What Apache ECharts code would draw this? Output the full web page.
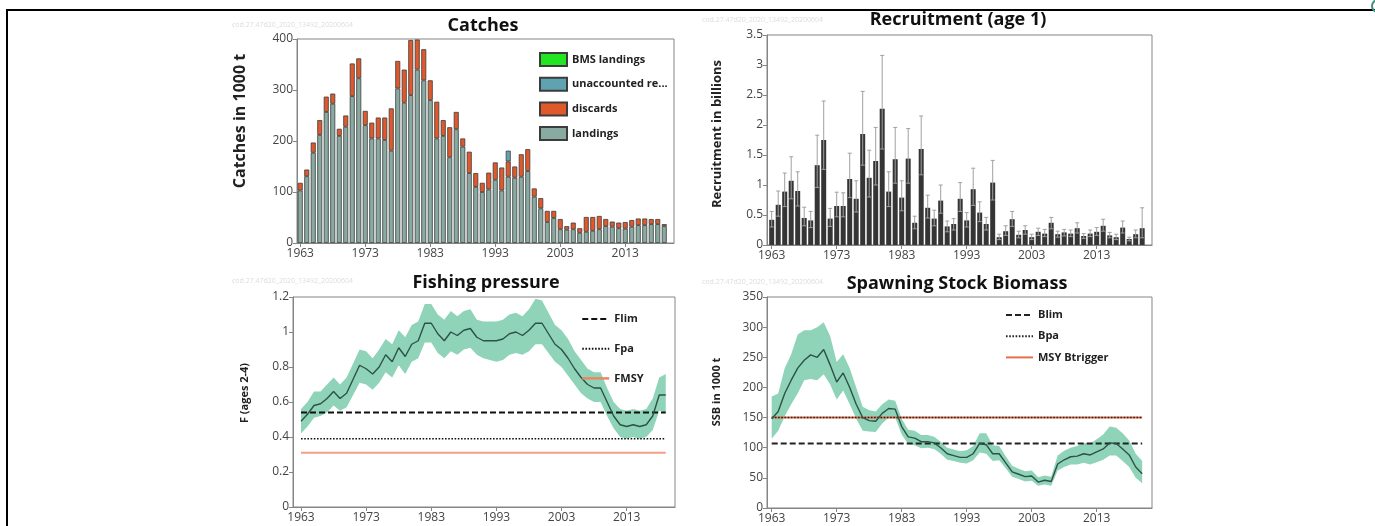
<!DOCTYPE html>
<html>
<head>
<meta charset="utf-8">
<title>Stock summary</title>
<script src="https://cdn.jsdelivr.net/npm/echarts@6.0.0/dist/echarts.min.js"></script>
<style>
html,body{margin:0;padding:0;background:#fff;overflow:hidden}
#chart{width:1375px;height:526px}
</style>
</head>
<body>
<div id="chart"></div>
<script>
// ---------- data ----------
const years = [1963,1964,1965,1966,1967,1968,1969,1970,1971,1972,
  1973,1974,1975,1976,1977,1978,1979,1980,1981,1982,
  1983,1984,1985,1986,1987,1988,1989,1990,1991,1992,
  1993,1994,1995,1996,1997,1998,1999,2000,2001,2002,
  2003,2004,2005,2006,2007,2008,2009,2010,2011,2012,
  2013,2014,2015,2016,2017,2018,2019,2020];
const fYears = years.slice(0, 57);       // 1963-2019
const tickYears = [1963,1973,1983,1993,2003,2013];

// Catches (1000 t), 1963-2019
const landings = [103,131,177,212,257,273,210,228,288,323,
  231,205,205,202,181,303,275,290,340,319,
  280,205,210,168,223,189,137,110,100,105,
  124,103,130,128,130,141,91,68,41,49,
  27,26,27,20,22,24,27,33,32,29,
  28,32,35,35,37,37,33];
const discards = [15,13,20,29,30,20,14,22,64,39,
  28,31,41,44,83,54,65,108,59,61,
  39,72,31,59,34,16,42,27,18,33,
  34,45,30,22,44,43,16,20,22,14,
  20,7,13,9,29,27,26,14,10,11,
  13,13,13,13,10,10,4];
const unaccounted = [null,null,null,null,null,null,null,null,null,null,
  null,null,null,null,null,null,null,null,null,null,
  null,null,null,null,null,null,null,null,null,null,
  null,null,21,null,null,null,null,null,null,null,
  null,null,null,null,null,null,null,null,null,null,
  null,null,null,null,null,null,null];
const bmsLandings = [];

// Recruitment (billions), 1963-2020
const recruitment = [0.42,0.67,0.89,1.07,0.90,0.45,0.41,1.33,1.75,0.44,
  0.65,0.65,1.10,0.77,1.85,1.12,1.40,2.27,0.89,1.43,
  0.79,1.44,0.37,1.60,0.62,0.44,0.74,0.31,0.35,0.77,
  0.41,0.93,0.54,0.35,1.04,0.13,0.23,0.43,0.17,0.25,
  0.13,0.22,0.19,0.37,0.18,0.21,0.19,0.28,0.15,0.19,
  0.22,0.32,0.16,0.13,0.29,0.10,0.18,0.28];
const recHigh = [0.56,0.90,1.20,1.47,1.22,0.63,0.56,1.83,2.40,0.61,
  0.88,0.87,1.53,1.07,2.56,1.58,1.96,3.16,1.22,1.96,
  1.07,1.94,0.48,2.15,0.83,0.58,1.00,0.40,0.44,1.04,
  0.54,1.28,0.72,0.46,1.41,0.18,0.32,0.56,0.23,0.32,
  0.18,0.28,0.26,0.46,0.23,0.26,0.25,0.37,0.19,0.25,
  0.29,0.43,0.21,0.18,0.40,0.13,0.25,0.62];
const recLow = [0.30,0.48,0.64,0.77,0.65,0.32,0.29,0.96,1.26,0.31,
  0.47,0.47,0.79,0.55,1.33,0.80,1.00,1.60,0.64,1.03,
  0.57,1.03,0.27,1.17,0.45,0.32,0.53,0.22,0.25,0.56,
  0.30,0.66,0.39,0.25,0.75,0.09,0.16,0.31,0.12,0.18,
  0.09,0.16,0.14,0.27,0.13,0.15,0.14,0.20,0.11,0.14,
  0.16,0.23,0.12,0.09,0.20,0.07,0.12,0.12];

// Fishing pressure F (ages 2-4), 1963-2019
const fBar = [0.49,0.53,0.58,0.59,0.62,0.66,0.62,0.65,0.73,0.81,
  0.79,0.76,0.80,0.87,0.83,0.91,0.86,0.93,0.95,1.05,
  1.05,0.99,0.95,1.00,0.98,1.01,1.02,0.97,0.95,0.95,
  0.95,0.96,0.99,1.00,0.98,1.01,1.05,1.05,0.99,0.93,
  0.90,0.85,0.79,0.74,0.70,0.68,0.68,0.60,0.52,0.47,
  0.46,0.47,0.46,0.47,0.52,0.64,0.64];
const fHigh = [0.56,0.60,0.66,0.66,0.70,0.74,0.70,0.74,0.82,0.90,
  0.89,0.85,0.90,0.96,0.93,1.01,0.97,1.04,1.06,1.16,
  1.16,1.10,1.07,1.12,1.09,1.12,1.13,1.07,1.06,1.06,
  1.06,1.07,1.10,1.11,1.09,1.13,1.19,1.18,1.11,1.04,
  1.01,0.96,0.89,0.84,0.79,0.77,0.77,0.68,0.60,0.56,
  0.55,0.56,0.55,0.56,0.62,0.74,0.76];
const fLow = [0.42,0.46,0.51,0.52,0.54,0.58,0.55,0.57,0.64,0.71,
  0.70,0.67,0.71,0.77,0.74,0.81,0.76,0.83,0.85,0.94,
  0.94,0.88,0.85,0.89,0.87,0.90,0.91,0.87,0.85,0.84,
  0.83,0.84,0.87,0.88,0.87,0.89,0.93,0.93,0.88,0.83,
  0.80,0.75,0.70,0.65,0.62,0.60,0.60,0.52,0.45,0.40,
  0.39,0.40,0.39,0.40,0.44,0.55,0.54];
const fLim = 0.54, fPa = 0.39, fMsy = 0.31;

// Spawning stock biomass (1000 t), 1963-2020
const ssb = [148,160,190,212,232,245,254,250,263,237,
  209,224,200,172,150,145,144,157,165,164,
  135,118,116,110,110,108,100,90,87,84,
  84,90,107,105,90,90,75,60,56,52,
  53,43,46,44,73,80,85,86,90,88,
  93,98,108,107,98,88,68,57];
const ssbHigh = [185,190,232,255,288,295,295,300,308,285,
  242,255,232,200,168,162,160,172,180,178,
  148,130,128,121,121,118,110,100,97,94,
  96,103,124,124,104,103,86,70,65,61,
  62,51,54,52,87,95,100,103,108,107,
  114,122,135,133,124,112,90,78];
const ssbLow = [115,128,152,172,190,212,214,212,222,205,
  180,195,172,148,128,127,126,140,150,150,
  122,106,104,99,100,98,90,80,78,75,
  74,79,92,90,78,79,66,52,48,44,
  45,37,39,37,62,68,72,72,75,72,
  76,80,87,87,78,68,50,41];
const bLim = 107, bPa = 150, msyBtrigger = 150;

const watermark = 'cod.27.47d20_2020_13492_20200604';

// ---------- helpers ----------
const FONT = "'Open Sans', sans-serif";
const AX = '#858585';
function pairs(xs, ys) { return xs.map((x, i) => [x, ys[i]]); }
function xAx(gi, min, max) {
  return {
    type: 'value', gridIndex: gi, min: min, max: max,
    axisLine: { show: true, onZero: false, lineStyle: { color: AX, width: 1 } },
    axisTick: { show: true, customValues: tickYears, length: 4, lineStyle: { color: AX } },
    axisLabel: { customValues: tickYears, color: '#444', fontSize: 12, fontFamily: FONT, margin: 5,
      formatter: v => String(v) },
    splitLine: { show: false }
  };
}
const tickEvery10 = (idx) => idx % 10 === 0;
function yAx(gi, max, interval) {
  return {
    type: 'value', gridIndex: gi, min: 0, max: max, interval: interval,
    axisLine: { show: true, lineStyle: { color: AX, width: 1 } },
    axisTick: { show: true, length: 4, lineStyle: { color: AX } },
    axisLabel: { color: '#444', fontSize: 12, fontFamily: FONT, margin: 4 },
    splitLine: { show: false }
  };
}
function ytitle(text, x, y, size) {
  return { type: 'text', x: x, y: y, rotation: Math.PI / 2,
    style: { text: text, font: 'bold ' + size + 'px ' + FONT, fill: '#222',
      align: 'center', verticalAlign: 'middle', textAlign: 'center', textVerticalAlign: 'middle' } };
}
function wm(x, y) {
  return { type: 'text', x: x, y: y,
    style: { text: watermark, font: '7px ' + FONT, fill: '#dcdcdc', verticalAlign: 'middle', textVerticalAlign: 'middle' } };
}
function titleCfg(text, cx, top) {
  return { text: text, left: cx, top: top, textAlign: 'center', padding: 0,
    textStyle: { fontFamily: FONT, fontSize: 18, fontWeight: 'bold', color: '#111' } };
}
const bandColor = '#8fd3b9';
const lineColor = '#2d5247';
const barBorder = { borderColor: '#3c3c3c', borderWidth: 0.8 };
function bandSeries(name, axisIdx, xs, lo, hi) {
  return { name: name, type: 'custom', xAxisIndex: axisIdx, yAxisIndex: axisIdx, z: 1, silent: true,
    data: xs.map((x, i) => [x, lo[i], hi[i]]),
    encode: { x: 0, y: [1, 2] },
    renderItem: function (params, api) {
      if (params.dataIndex !== 0) return null;
      const pts = [];
      for (let i = 0; i < xs.length; i++) pts.push(api.coord([xs[i], hi[i]]));
      for (let i = xs.length - 1; i >= 0; i--) pts.push(api.coord([xs[i], lo[i]]));
      return { type: 'polygon', shape: { points: pts }, style: { fill: bandColor } };
    } };
}
function refLine(name, axisIdx, x0, x1, v, style) {
  return { name: name, type: 'line', xAxisIndex: axisIdx, yAxisIndex: axisIdx, symbol: 'none', z: 2,
    lineStyle: style, itemStyle: { color: style.color }, data: [[x0, v], [x1, v]] };
}
function legendText(lh) {
  return { fontFamily: FONT, fontSize: 11, fontWeight: 'bold', color: '#222', lineHeight: lh };
}

const option = {
  animation: false,
  backgroundColor: '#fff',
  title: [
    titleCfg('Catches', 483, 17),
    titleCfg('Recruitment (age 1)', 958, 11),
    titleCfg('Fishing pressure', 486, 274),
    titleCfg('Spawning Stock Biomass', 957, 275)
  ],
  grid: [
    { left: 297, top: 39, width: 377, height: 204, show: true, borderColor: AX, borderWidth: 1 },
    { left: 767, top: 35, width: 385, height: 210, show: true, borderColor: AX, borderWidth: 1 },
    { left: 293, top: 297, width: 382, height: 210, show: true, borderColor: AX, borderWidth: 1 },
    { left: 767, top: 297, width: 385, height: 211, show: true, borderColor: AX, borderWidth: 1 }
  ],
  xAxis: [
    { type: 'category', gridIndex: 0, data: years.map(String), boundaryGap: true,
      axisLine: { show: true, lineStyle: { color: AX, width: 1 } },
      axisTick: { show: true, alignWithLabel: true, interval: tickEvery10, length: 4, lineStyle: { color: AX } },
      axisLabel: { interval: tickEvery10, color: '#444', fontSize: 12, fontFamily: FONT, margin: 5 },
      splitLine: { show: false } },
    xAx(1, 1962.277, 2021.51),
    xAx(2, 1961.772, 2020.42),
    xAx(3, 1962.277, 2021.51)
  ],
  yAxis: [
    yAx(0, 400, 100),
    yAx(1, 3.5, 0.5),
    yAx(2, 1.2, 0.2),
    yAx(3, 350, 50)
  ],
  legend: [
    { left: 539, top: 52, padding: 0, orient: 'vertical', icon: 'rect', itemWidth: 27, itemHeight: 13, itemGap: 9.7,
      selectedMode: false, data: ['BMS landings', 'unaccounted re...', 'discards', 'landings'],
      textStyle: legendText(13) },
    { left: 581, top: 312, padding: 0, orient: 'vertical', itemWidth: 27, itemHeight: 14, itemGap: 15.7,
      selectedMode: false, itemStyle: { opacity: 0 },
      data: ['Flim', 'Fpa', { name: 'FMSY', lineStyle: { color: '#ec8663', width: 2.5 } }],
      textStyle: legendText(14) },
    { left: 1005, top: 309, padding: 0, orient: 'vertical', itemWidth: 27, itemHeight: 12, itemGap: 9.2,
      selectedMode: false, data: ['Blim', 'Bpa', 'MSY Btrigger'], itemStyle: { opacity: 0 },
      textStyle: legendText(12) }
  ],
  graphic: [
    { type: 'rect', shape: { x: 6, y: 9, width: 1369, height: 2 }, style: { fill: '#000' } },
    { type: 'rect', shape: { x: 6, y: 9, width: 2, height: 517 }, style: { fill: '#000' } },
    { type: 'circle', shape: { cx: 1378, cy: 6, r: 6 }, style: { fill: 'none', stroke: '#3f8f7d', lineWidth: 2 } },
    ytitle('Catches in 1000 t', 240, 121, 16),
    ytitle('Recruitment in billions', 717, 134, 13),
    ytitle('F (ages 2-4)', 245, 393, 11),
    ytitle('SSB in 1000 t', 717, 392, 11),
    wm(232, 25), wm(702, 20), wm(232, 281), wm(702, 282)
  ],
  series: [
    // ---- Catches ----
    { name: 'landings', type: 'bar', xAxisIndex: 0, yAxisIndex: 0, stack: 'catch', barWidth: 5,
      itemStyle: Object.assign({ color: '#89aaa1' }, barBorder), data: landings },
    { name: 'discards', type: 'bar', xAxisIndex: 0, yAxisIndex: 0, stack: 'catch', barWidth: 5,
      itemStyle: Object.assign({ color: '#e0592b' }, barBorder), data: discards },
    { name: 'unaccounted re...', type: 'bar', xAxisIndex: 0, yAxisIndex: 0, stack: 'catch', barWidth: 5,
      itemStyle: Object.assign({ color: '#5fa3b0' }, barBorder), data: unaccounted },
    { name: 'BMS landings', type: 'bar', xAxisIndex: 0, yAxisIndex: 0, stack: 'catch', barWidth: 5,
      itemStyle: Object.assign({ color: '#22e622' }, barBorder), data: bmsLandings },
    // ---- Recruitment ----
    { name: 'Recruitment', type: 'bar', xAxisIndex: 1, yAxisIndex: 1, barWidth: 5,
      itemStyle: { color: '#353535' }, data: pairs(years, recruitment) },
    { name: 'Recruitment CI', type: 'custom', xAxisIndex: 1, yAxisIndex: 1, z: 3,
      encode: { x: 0, y: [1, 2] },
      data: years.map((y, i) => [y, recLow[i], recHigh[i]]),
      renderItem: function (params, api) {
        const x = api.value(0);
        const a = api.coord([x, api.value(1)]);
        const b = api.coord([x, api.value(2)]);
        const st = { stroke: '#a0a0a0', lineWidth: 1 };
        return { type: 'group', children: [
          { type: 'line', shape: { x1: a[0], y1: a[1], x2: b[0], y2: b[1] }, style: st },
          { type: 'line', shape: { x1: b[0] - 2, y1: b[1], x2: b[0] + 2, y2: b[1] }, style: st },
          { type: 'line', shape: { x1: a[0] - 2, y1: a[1], x2: a[0] + 2, y2: a[1] }, style: st }
        ] };
      } },
    // ---- Fishing pressure ----
    bandSeries('F band', 2, fYears, fLow, fHigh),
    refLine('FMSY', 2, 1963, 2019, fMsy, { color: '#f29f87', width: 2 }),
    refLine('Fpa', 2, 1963, 2019, fPa, { color: '#111', width: 1.6, type: [1.6, 1.6] }),
    refLine('Flim', 2, 1963, 2019, fLim, { color: '#111', width: 2, type: [6, 3] }),
    { name: 'F', type: 'line', xAxisIndex: 2, yAxisIndex: 2, symbol: 'none', z: 3,
      lineStyle: { color: lineColor, width: 1.4 }, data: pairs(fYears, fBar) },
    // ---- SSB ----
    bandSeries('SSB band', 3, years, ssbLow, ssbHigh),
    refLine('MSY Btrigger', 3, 1963, 2020, msyBtrigger, { color: '#e5704c', width: 2 }),
    refLine('Bpa', 3, 1963, 2020, bPa, { color: '#222', width: 1.6, type: [1.6, 1.6] }),
    refLine('Blim', 3, 1963, 2020, bLim, { color: '#222', width: 2, type: [6, 3] }),
    { name: 'SSB', type: 'line', xAxisIndex: 3, yAxisIndex: 3, symbol: 'none', z: 3,
      lineStyle: { color: lineColor, width: 1.4 }, data: pairs(years, ssb) }
  ]
};

const chart = echarts.init(document.getElementById('chart'), null, { renderer: 'canvas' });
chart.setOption(option);
</script>
</body>
</html>
